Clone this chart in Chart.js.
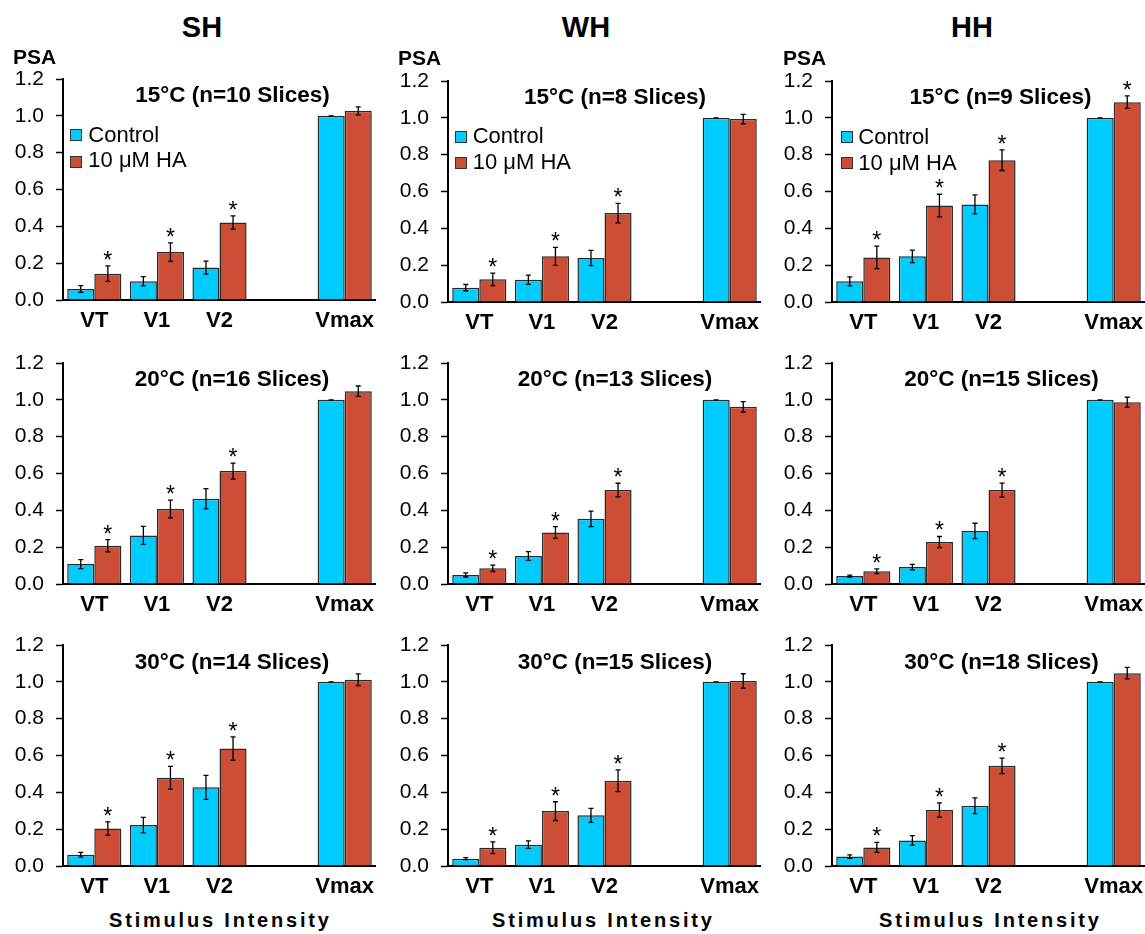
<!DOCTYPE html>
<html>
<head>
<meta charset="utf-8">
<script src="https://cdn.jsdelivr.net/npm/chart.js@4/dist/chart.umd.min.js"></script>
<style>
  html, body { margin:0; padding:0; background:#fff; }
  body { width:1145px; height:934px; overflow:hidden; position:relative; font-family:"Liberation Sans", Arial, sans-serif; color:#000; }
  canvas { position:absolute; }
  .t { position:absolute; white-space:nowrap; line-height:1; }
  .sq { position:absolute; box-sizing:border-box; border:1px solid #333; }
</style>
</head>
<body>
<script>
// ---------------- DATA ----------------
const categories = ['VT', 'V1', 'V2', '', 'Vmax'];
const yTickLabels = ['0.0', '0.2', '0.4', '0.6', '0.8', '1.0', '1.2'];
const groupNames = ['SH', 'WH', 'HH'];
const seriesNames = ['Control', '10 \u03bcM HA'];
const xTitle = 'Stimulus Intensity';
const yTitle = 'PSA';

// SH
const shTitle15 = '15\u00b0C (n=10 Slices)';
const shCtl15 = [0.060, 0.102, 0.176, null, 1.000];
const shCtl15Err = [0.018, 0.025, 0.035, null, 0.000];
const shHa15 = [0.143, 0.260, 0.421, null, 1.027];
const shHa15Err = [0.042, 0.050, 0.036, null, 0.022];
const shSig15 = [1, 1, 1, 0, 0];

const shTitle20 = '20\u00b0C (n=16 Slices)';
const shCtl20 = [0.108, 0.264, 0.463, null, 1.000];
const shCtl20Err = [0.024, 0.049, 0.055, null, 0.000];
const shHa20 = [0.208, 0.407, 0.613, null, 1.047];
const shHa20Err = [0.033, 0.048, 0.043, null, 0.028];
const shSig20 = [1, 1, 1, 0, 0];

const shTitle30 = '30\u00b0C (n=14 Slices)';
const shCtl30 = [0.061, 0.222, 0.427, null, 1.000];
const shCtl30Err = [0.013, 0.042, 0.065, null, 0.000];
const shHa30 = [0.204, 0.479, 0.638, null, 1.011];
const shHa30Err = [0.036, 0.062, 0.063, null, 0.032];
const shSig30 = [1, 1, 1, 0, 0];

// WH
const whTitle15 = '15\u00b0C (n=8 Slices)';
const whCtl15 = [0.078, 0.121, 0.239, null, 1.000];
const whCtl15Err = [0.017, 0.025, 0.041, null, 0.000];
const whHa15 = [0.123, 0.248, 0.483, null, 0.993];
const whHa15Err = [0.034, 0.049, 0.053, null, 0.026];
const whSig15 = [1, 1, 1, 0, 0];

const whTitle20 = '20\u00b0C (n=13 Slices)';
const whCtl20 = [0.049, 0.152, 0.354, null, 1.000];
const whCtl20Err = [0.011, 0.024, 0.042, null, 0.000];
const whHa20 = [0.085, 0.280, 0.510, null, 0.962];
const whHa20Err = [0.017, 0.032, 0.037, null, 0.028];
const whSig20 = [1, 1, 1, 0, 0];

const whTitle30 = '30\u00b0C (n=15 Slices)';
const whCtl30 = [0.040, 0.116, 0.275, null, 1.000];
const whCtl30Err = [0.005, 0.020, 0.038, null, 0.000];
const whHa30 = [0.099, 0.298, 0.463, null, 1.005];
const whHa30Err = [0.032, 0.051, 0.059, null, 0.039];
const whSig30 = [1, 1, 1, 0, 0];

// HH
const hhTitle15 = '15\u00b0C (n=9 Slices)';
const hhCtl15 = [0.112, 0.248, 0.530, null, 1.000];
const hhCtl15Err = [0.024, 0.034, 0.052, null, 0.000];
const hhHa15 = [0.242, 0.524, 0.770, null, 1.085];
const hhHa15Err = [0.061, 0.061, 0.056, null, 0.034];
const hhSig15 = [1, 1, 1, 0, 1];

const hhTitle20 = '20\u00b0C (n=15 Slices)';
const hhCtl20 = [0.043, 0.092, 0.288, null, 1.000];
const hhCtl20Err = [0.005, 0.015, 0.042, null, 0.000];
const hhHa20 = [0.069, 0.228, 0.510, null, 0.987];
const hhHa20Err = [0.013, 0.030, 0.038, null, 0.027];
const hhSig20 = [1, 1, 1, 0, 0];

const hhTitle30 = '30\u00b0C (n=18 Slices)';
const hhCtl30 = [0.051, 0.139, 0.327, null, 1.000];
const hhCtl30Err = [0.009, 0.026, 0.043, null, 0.000];
const hhHa30 = [0.101, 0.304, 0.544, null, 1.047];
const hhHa30Err = [0.027, 0.039, 0.042, null, 0.031];
const hhSig30 = [1, 1, 1, 0, 0];

// ---------------- STYLE / LAYOUT ----------------
const FONT = '"Liberation Sans", Arial, sans-serif';
const CTL_COLOR = '#00CCFF';
const HA_COLOR = '#CC4E37';
const BAR_BORDER = '#2a2a2a';

const colAxisX = [63, 448, 832];          // chart-area left per column
const rowAreaTop = [[79, 81, 81], [363, 363, 363], [645, 645, 645]];
const AXIS_W = 50, PAD_TOP = 26, AREA_H = 221, AREA_W = 313, XAXIS_H = 40;

const panels = [
  [ {t: shTitle15, c: shCtl15, ce: shCtl15Err, h: shHa15, he: shHa15Err, s: shSig15},
    {t: whTitle15, c: whCtl15, ce: whCtl15Err, h: whHa15, he: whHa15Err, s: whSig15},
    {t: hhTitle15, c: hhCtl15, ce: hhCtl15Err, h: hhHa15, he: hhHa15Err, s: hhSig15} ],
  [ {t: shTitle20, c: shCtl20, ce: shCtl20Err, h: shHa20, he: shHa20Err, s: shSig20},
    {t: whTitle20, c: whCtl20, ce: whCtl20Err, h: whHa20, he: whHa20Err, s: whSig20},
    {t: hhTitle20, c: hhCtl20, ce: hhCtl20Err, h: hhHa20, he: hhHa20Err, s: hhSig20} ],
  [ {t: shTitle30, c: shCtl30, ce: shCtl30Err, h: shHa30, he: shHa30Err, s: shSig30},
    {t: whTitle30, c: whCtl30, ce: whCtl30Err, h: whHa30, he: whHa30Err, s: whSig30},
    {t: hhTitle30, c: hhCtl30, ce: hhCtl30Err, h: hhHa30, he: hhHa30Err, s: hhSig30} ]
];

// title centers / baselines
const titleCx = [[232.5, 615, 1000.5], [232, 615, 1001.5], [232, 615, 1001.5]];
const titleBase = [[103.3, 105, 105], [386.7, 386.7, 386.7], [670, 670, 670]];

// ---------------- HELPERS ----------------
function text(str, x, baseline, size, bold, anchor, extra) {
  const d = document.createElement('div');
  d.className = 't';
  d.textContent = str;
  d.style.fontSize = size + 'px';
  d.style.fontWeight = bold ? 'bold' : 'normal';
  d.style.top = (baseline - 0.8465 * size) + 'px';
  d.style.left = x + 'px';
  if (anchor === 'center') d.style.transform = 'translateX(-50%)';
  if (extra) Object.assign(d.style, extra);
  document.body.appendChild(d);
  return d;
}

const errorBarPlugin = {
  id: 'errbars',
  afterDatasetsDraw(chart) {
    const ctx = chart.ctx, y = chart.scales.y;
    chart.data.datasets.forEach((ds, di) => {
      const meta = chart.getDatasetMeta(di);
      meta.data.forEach((bar, i) => {
        const v = ds.data[i];
        if (v == null) return;
        const e = ds.errors[i] || 0;
        const x = bar.x;
        const yt = y.getPixelForValue(v + e), yb = y.getPixelForValue(v - e);
        ctx.save();
        ctx.strokeStyle = '#000';
        ctx.lineWidth = 1.3;
        ctx.beginPath();
        ctx.moveTo(x, yt); ctx.lineTo(x, yb);
        ctx.moveTo(x - 2.5, yt); ctx.lineTo(x + 2.5, yt);
        ctx.moveTo(x - 2.5, yb); ctx.lineTo(x + 2.5, yb);
        ctx.stroke();
        if (ds.sig && ds.sig[i]) {
          ctx.fillStyle = '#000';
          ctx.font = '23px ' + FONT;
          ctx.textAlign = 'center';
          ctx.textBaseline = 'alphabetic';
          ctx.fillText('*', x, yt + 2);
        }
        ctx.restore();
      });
    });
  }
};

Chart.defaults.font.family = FONT;
Chart.defaults.color = '#000';

// ---------------- BUILD ----------------
panels.forEach((row, r) => {
  row.forEach((p, c) => {
    const cv = document.createElement('canvas');
    const w = AXIS_W + AREA_W, h = PAD_TOP + AREA_H + XAXIS_H;
    cv.width = w; cv.height = h;
    cv.style.width = w + 'px'; cv.style.height = h + 'px';
    cv.style.left = (colAxisX[c] - AXIS_W) + 'px';
    cv.style.top = (rowAreaTop[r][c] - PAD_TOP) + 'px';
    document.body.appendChild(cv);

    new Chart(cv, {
      type: 'bar',
      data: {
        labels: categories,
        datasets: [
          { label: seriesNames[0], data: p.c, errors: p.ce, sig: null,
            backgroundColor: CTL_COLOR, borderColor: BAR_BORDER, borderWidth: 1.5,
            categoryPercentage: 0.865, barPercentage: 1.0 },
          { label: seriesNames[1], data: p.h, errors: p.he, sig: p.s,
            backgroundColor: HA_COLOR, borderColor: BAR_BORDER, borderWidth: 1.5,
            categoryPercentage: 0.865, barPercentage: 1.0 }
        ]
      },
      options: {
        responsive: false,
        animation: false,
        devicePixelRatio: 1,
        layout: { padding: { top: PAD_TOP, right: 0, bottom: 0, left: 0 } },
        plugins: { legend: { display: false }, tooltip: { enabled: false }, title: { display: false } },
        scales: {
          x: {
            type: 'category',
            offset: true,
            grid: { display: false },
            border: { display: true, color: '#000', width: 2 },
            ticks: { font: { size: 22, weight: 'bold' }, color: '#000', padding: 0,
                     maxRotation: 0, autoSkip: false },
            afterFit: s => { s.height = XAXIS_H; }
          },
          y: {
            type: 'linear',
            min: 0, max: 1.2,
            ticks: { stepSize: 0.2, font: { size: 21 }, color: '#000', padding: 12,
                     callback: (v, i) => yTickLabels[i] },
            grid: { display: true, drawOnChartArea: false, drawTicks: true, tickLength: 7,
                    tickColor: '#000', tickWidth: 1.5 },
            border: { display: true, color: '#000', width: 2 },
            afterFit: s => { s.width = AXIS_W; }
          }
        }
      },
      plugins: [errorBarPlugin]
    });

    text(p.t, titleCx[r][c], titleBase[r][c], 22.5, true, 'center');
  });
});

// group headings
const headCx = [202, 586, 972];
groupNames.forEach((g, i) => text(g, headCx[i], 38, 29, true, 'center'));

// PSA labels
const psaX = [13, 398, 783];
const psaBase = [64, 65, 65];
psaX.forEach((x, i) => text(yTitle, x, psaBase[i], 21, true, 'left'));

// legends (top row)
const legSqX = [70, 455, 841];
const legSqY = [[129, 156], [131, 157], [131, 157]];
const legTxX = [88.3, 472.7, 858.3];
const legTxBase = [[143, 167.7], [144, 170], [145, 171]];
const legColors = [CTL_COLOR, HA_COLOR];
legSqX.forEach((sx, c) => {
  seriesNames.forEach((name, k) => {
    const sq = document.createElement('div');
    sq.className = 'sq';
    Object.assign(sq.style, { left: sx + 'px', top: legSqY[c][k] + 'px', width: '12px', height: '12px', background: legColors[k] });
    document.body.appendChild(sq);
    text(name, legTxX[c], legTxBase[c][k], 22, false, 'left');
  });
});

// x titles (bottom row)
const xTitleCx = [219, 602, 989];
xTitleCx.forEach(cx => text(xTitle, cx + 1.4, 927, 20, true, 'center', { letterSpacing: '2.8px' }));
</script>
</body>
</html>
